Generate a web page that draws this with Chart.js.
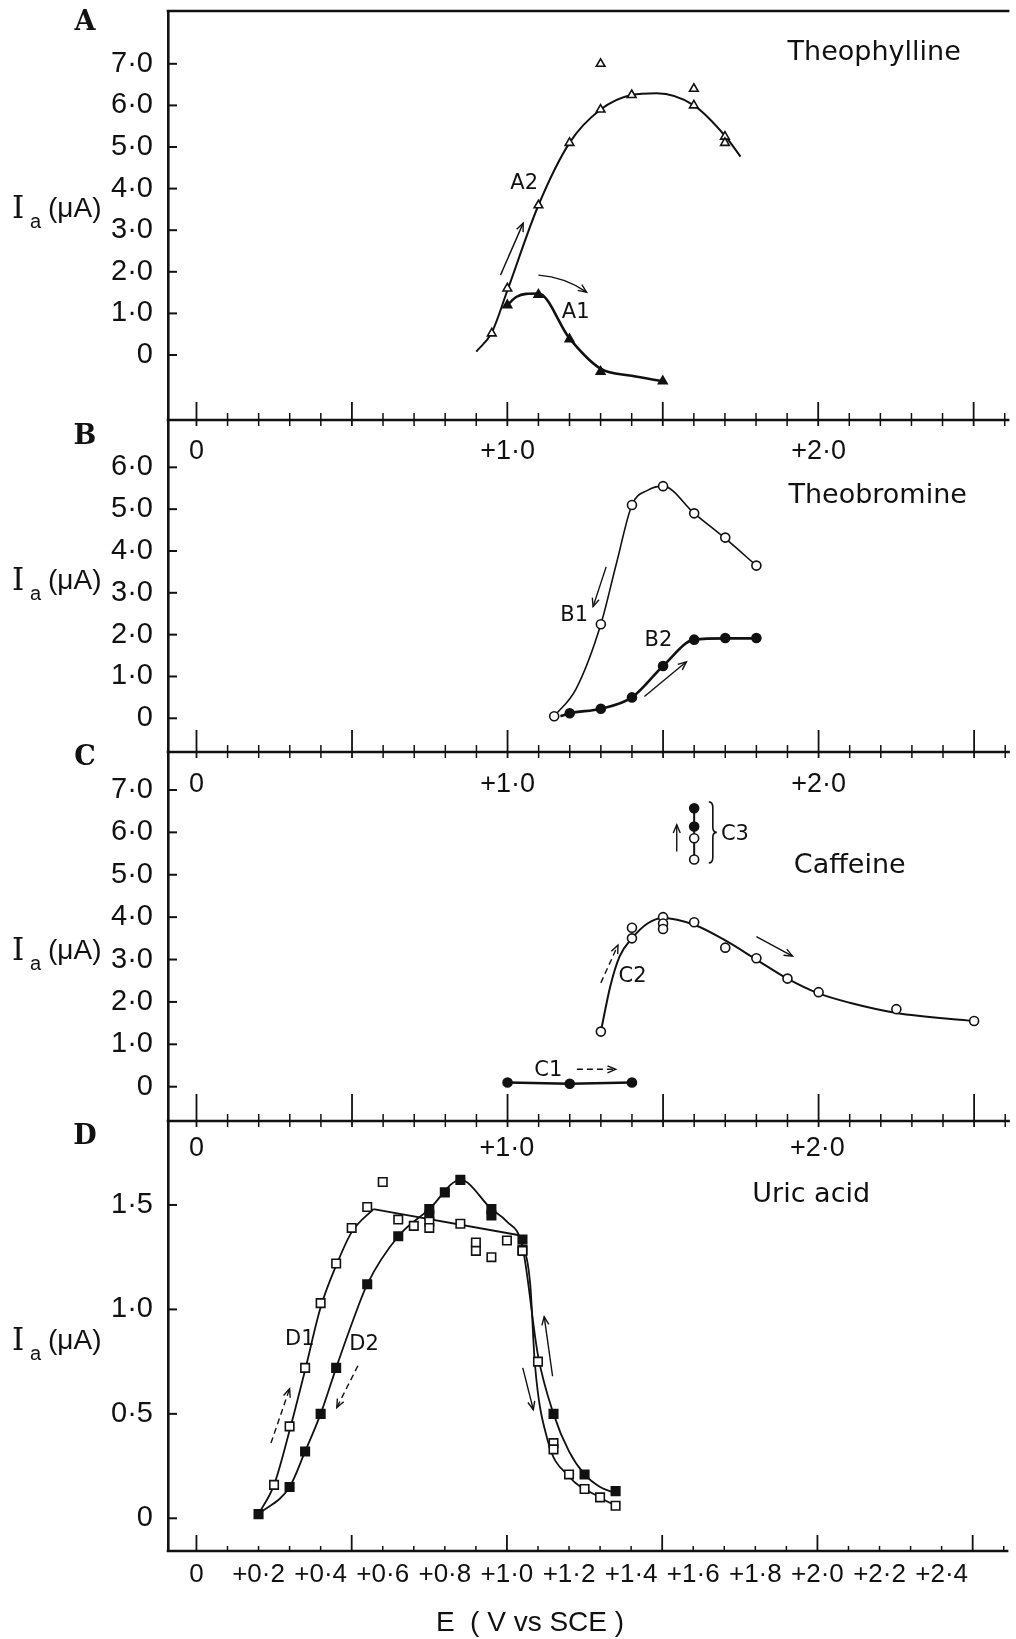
<!DOCTYPE html>
<html>
<head>
<meta charset="utf-8">
<title>Ia vs E</title>
<script src="https://cdn.jsdelivr.net/npm/chart.js@4.4.1/dist/chart.umd.min.js"></script>
<style>
  body { margin: 0; background: #fff; }
  #page { position: relative; width: 1016px; height: 1639px; background: #fff; overflow: hidden; }
  #page canvas { position: absolute; left: 0; }
</style>
</head>
<body>
<div id="page">
  <canvas id="cA"></canvas>
  <canvas id="cB"></canvas>
  <canvas id="cC"></canvas>
  <canvas id="cD"></canvas>
</div>
<script>
// values: [E (V vs SCE), Ia (uA)]

// A - Theophylline
const a2Open = [[0.95,0.52],[1.0,1.6],[1.1,3.6],[1.2,5.1],[1.3,5.9],[1.3,7.0],[1.4,6.25],[1.6,6.4],[1.6,6.0],[1.7,5.25],[1.7,5.1]];
const a1Filled = [[1.0,1.2],[1.1,1.45],[1.2,0.38],[1.3,-0.4],[1.5,-0.63]];
const a2Curve = [[0.9,0.08],[0.95,0.54],[1.0,1.55],[1.1,3.6],[1.2,5.1],[1.3,5.9],[1.4,6.25],[1.48,6.29],[1.6,6.0],[1.7,5.27],[1.75,4.77]];
const a1Curve = [[1.0,1.2],[1.03,1.4],[1.06,1.47],[1.1,1.48],[1.2,0.4],[1.3,-0.33],[1.4,-0.5],[1.5,-0.63]];

// B - Theobromine
const b1Open = [[1.15,0.05],[1.3,2.25],[1.4,5.1],[1.5,5.55],[1.6,4.9],[1.7,4.32],[1.8,3.65]];
const b2Filled = [[1.2,0.12],[1.3,0.23],[1.4,0.5],[1.5,1.25],[1.6,1.88],[1.7,1.92],[1.8,1.92]];
const b1Curve = [[1.15,0.05],[1.22,0.7],[1.3,2.25],[1.35,3.7],[1.4,5.1],[1.45,5.45],[1.5,5.55],[1.6,4.9],[1.7,4.3],[1.8,3.65]];
const b2Curve = [[1.17,0.05],[1.2,0.12],[1.3,0.23],[1.4,0.5],[1.5,1.25],[1.6,1.88],[1.7,1.91],[1.8,1.91]];

// C - Caffeine
const c1Filled = [[1.0,0.1],[1.2,0.07],[1.4,0.1]];
const c2Open = [[1.3,1.3],[1.4,3.75],[1.4,3.5],[1.5,4.0],[1.5,3.85],[1.5,3.72],[1.6,3.88],[1.7,3.28],[1.8,3.03],[1.9,2.55],[2.0,2.23],[2.25,1.83],[2.5,1.55]];
const c3Filled = [[1.6,6.57],[1.6,6.14]];
const c3Open = [[1.6,5.86],[1.6,5.36]];
const c2Curve = [[1.3,1.3],[1.33,2.36],[1.36,3.07],[1.4,3.5],[1.45,3.85],[1.5,3.98],[1.6,3.82],[1.7,3.45],[1.8,3.0],[1.9,2.55],[2.0,2.2],[2.1,1.98],[2.25,1.74],[2.5,1.55]];
const c3Line = [[1.6,5.36],[1.6,6.57]];

// D - Uric acid
const d1Open = [[0.25,0.16],[0.3,0.44],[0.35,0.72],[0.4,1.03],[0.45,1.22],[0.5,1.39],[0.55,1.49],[0.6,1.61],[0.65,1.43],[0.7,1.40],[0.75,1.42],[0.75,1.39],[0.85,1.41],[0.9,1.32],[0.9,1.28],[0.95,1.25],[1.0,1.33],[1.05,1.28],[1.1,0.75],[1.15,0.36],[1.15,0.33],[1.2,0.21],[1.25,0.14],[1.3,0.10],[1.35,0.06]];
const d2Filled = [[0.2,0.02],[0.3,0.15],[0.35,0.32],[0.4,0.5],[0.45,0.72],[0.55,1.12],[0.65,1.35],[0.75,1.48],[0.75,1.45],[0.8,1.56],[0.85,1.62],[0.95,1.48],[0.95,1.45],[1.05,1.335],[1.05,1.285],[1.15,0.5],[1.25,0.21],[1.35,0.13]];
const d1Rise = [[0.2,0.02],[0.25,0.16],[0.3,0.42],[0.35,0.71],[0.4,1.01],[0.45,1.21],[0.5,1.37],[0.57,1.48]];
const d1Plateau = [[0.57,1.48],[1.04,1.355]];
const d1Fall = [[1.04,1.355],[1.075,1.12],[1.09,0.74],[1.13,0.38],[1.2,0.2],[1.3,0.1],[1.35,0.06]];
const d2Curve = [[0.2,0.02],[0.3,0.15],[0.35,0.32],[0.4,0.5],[0.45,0.72],[0.5,0.93],[0.55,1.12],[0.65,1.35],[0.75,1.48],[0.85,1.62],[0.95,1.48],[1.0,1.42],[1.05,1.3],[1.1,0.78],[1.15,0.5],[1.2,0.32],[1.25,0.21],[1.3,0.15],[1.35,0.12]];

// tick values and labels
const yTicksA = [0, 1, 2, 3, 4, 5, 6, 7];
const yLabelsA = ['0', '1·0', '2·0', '3·0', '4·0', '5·0', '6·0', '7·0'];
const yTicksB = [0, 1, 2, 3, 4, 5, 6];
const yLabelsB = ['0', '1·0', '2·0', '3·0', '4·0', '5·0', '6·0'];
const yTicksC = [0, 1, 2, 3, 4, 5, 6, 7];
const yLabelsC = ['0', '1·0', '2·0', '3·0', '4·0', '5·0', '6·0', '7·0'];
const yTicksD = [0, 0.5, 1.0, 1.5];
const yLabelsD = ['0', '0·5', '1·0', '1·5'];
const eTopTicks = [0, 1, 2];
const eTopLabels = ['0', '+1·0', '+2·0'];
const eBottomTicks = [0, 0.2, 0.4, 0.6, 0.8, 1.0, 1.2, 1.4, 1.6, 1.8, 2.0, 2.2, 2.4];
const eBottomLabels = ['0', '+0·2', '+0·4', '+0·6', '+0·8', '+1·0', '+1·2', '+1·4', '+1·6', '+1·8', '+2·0', '+2·2', '+2·4'];
const eMajorTicks = [0, 0.5, 1.0, 1.5, 2.0, 2.5];
const eMinorTicks = [0.1, 0.2, 0.3, 0.4, 0.6, 0.7, 0.8, 0.9, 1.1, 1.2, 1.3, 1.4, 1.6, 1.7, 1.8, 1.9, 2.1, 2.2, 2.3, 2.4, 2.6];

const INK = '#111';
const NUM_FONT = "'Liberation Sans', Arial, sans-serif";
const WORD_FONT = "'DejaVu Sans', Verdana, sans-serif";

// horizontal calibration of the page (px)
const E0_PX = 196.7, E_UNIT_PX = 313.3, AXIS_LEFT = 168, PAGE_W = 1016;
const eMin = (AXIS_LEFT - E0_PX) / E_UNIT_PX;
const eMax = (PAGE_W - E0_PX) / E_UNIT_PX;
const PAD = 40; // room round each panel, more than the y label half height + padding

const toXY = arr => arr.map(([x, y]) => ({ x: x, y: y }));

function marks(pts, style, filled, r) {
  return {
    data: toXY(pts), showLine: false, pointStyle: style, pointRadius: r,
    pointBorderWidth: 1.6, pointBorderColor: INK,
    pointBackgroundColor: filled ? INK : '#fff', clip: false
  };
}

function curve(pts, w, smooth) {
  return {
    data: toXY(pts), showLine: true, pointRadius: 0, borderColor: INK, borderWidth: w,
    tension: smooth ? 0.4 : 0, cubicInterpolationMode: smooth ? 'monotone' : 'default',
    fill: false, clip: false
  };
}

const panels = [
  {
    canvas: 'cA', letter: 'A', letterDy: 12, top: 11, bottom: 420, padBottom: PAD,
    zeroPx: 355, unitPx: 41.6, yTicks: yTicksA, yLabels: yLabelsA, iaY: 3.29,
    topFrame: true, majorUp: 18,
    datasets: [
      marks(a2Open, 'triangle', false, 5),
      marks(a1Filled, 'triangle', true, 5),
      curve(a2Curve, 2, true),
      curve(a1Curve, 2.6, true)
    ],
    texts: [['Theophylline', 2.18, 7.26, 27], ['A2', 1.054, 4.13, 21], ['A1', 1.22, 1.01, 21]],
    arrows: [[0.978, 1.92, 1.051, 3.17, 0, false], [1.10, 1.92, 1.255, 1.51, 7, false]]
  },
  {
    canvas: 'cB', letter: 'B', letterDy: 17, top: 420, bottom: 752, padBottom: PAD,
    zeroPx: 718.3, unitPx: 41.83, yTicks: yTicksB, yLabels: yLabelsB, iaY: 3.07,
    topLabels: true, topLabelDy: 32, majorUp: 22,
    datasets: [
      marks(b1Open, 'circle', false, 4.5),
      marks(b2Filled, 'circle', true, 4.5),
      curve(b1Curve, 1.6, true),
      curve(b2Curve, 2.6, true)
    ],
    texts: [['Theobromine', 2.19, 5.31, 27], ['B1', 1.214, 2.45, 21], ['B2', 1.485, 1.87, 21]],
    arrows: [[1.317, 3.62, 1.275, 2.67, 0, false], [1.44, 0.52, 1.575, 1.35, 0, false]]
  },
  {
    canvas: 'cC', letter: 'C', letterDy: 6, top: 752, bottom: 1121, padBottom: PAD,
    zeroPx: 1086.7, unitPx: 42.39, yTicks: yTicksC, yLabels: yLabelsC, iaY: 2.99,
    topLabels: true, topLabelDy: 33, majorUp: 27,
    datasets: [
      marks(c1Filled, 'circle', true, 4.5),
      marks(c2Open, 'circle', false, 4.5),
      marks(c3Filled, 'circle', true, 4.5),
      marks(c3Open, 'circle', false, 4.5),
      curve(c1Filled, 2.6, false),
      curve(c2Curve, 2, true),
      curve(c3Line, 2, false)
    ],
    texts: [['Caffeine', 2.10, 5.21, 27], ['C1', 1.131, 0.39, 21], ['C2', 1.402, 2.59, 21], ['C3', 1.731, 5.94, 21]],
    arrows: [[1.223, 0.41, 1.348, 0.41, 0, true], [1.30, 2.45, 1.355, 3.34, 0, true],
             [1.80, 3.54, 1.916, 3.08, 0, false], [1.544, 5.55, 1.544, 6.18, 0, false]],
    brace: [1.66, 6.72, 5.28]
  },
  {
    canvas: 'cD', letter: 'D', letterDy: 16, top: 1121, bottom: 1551, padBottom: 1639 - 1551,
    zeroPx: 1518.3, unitPx: 208.9, yTicks: yTicksD, yLabels: yLabelsD, iaY: 0.806,
    topLabels: true, topLabelDy: 28, majorUp: 16, minorUp: 5, minorDown: 0, majorDown: 0,
    bottomLabels: true,
    datasets: [
      marks(d1Open, 'rect', false, 6),
      marks(d2Filled, 'rect', true, 6),
      curve(d1Rise, 1.8, true),
      curve(d1Plateau, 1.8, false),
      curve(d1Fall, 1.8, true),
      curve(d2Curve, 1.8, true)
    ],
    texts: [['Uric acid', 1.98, 1.548, 27], ['D1', 0.333, 0.854, 21], ['D2', 0.54, 0.834, 21]],
    arrows: [[0.24, 0.36, 0.30, 0.62, 0, true], [0.52, 0.73, 0.452, 0.53, 0, true],
             [1.051, 0.72, 1.085, 0.52, 0, false], [1.147, 0.68, 1.12, 0.965, 0, false]]
  }
];

function drawArrow(ctx, xs, ys, a) {
  const x1 = xs.getPixelForValue(a[0]), y1 = ys.getPixelForValue(a[1]);
  const x2 = xs.getPixelForValue(a[2]), y2 = ys.getPixelForValue(a[3]);
  const len = Math.hypot(x2 - x1, y2 - y1);
  const nx = (y2 - y1) / len, ny = -(x2 - x1) / len;
  const cx = (x1 + x2) / 2 + nx * a[4], cy = (y1 + y2) / 2 + ny * a[4];
  ctx.lineWidth = 1.4;
  ctx.setLineDash(a[5] ? [6, 4] : []);
  ctx.beginPath();
  ctx.moveTo(x1, y1);
  ctx.quadraticCurveTo(cx, cy, x2, y2);
  ctx.stroke();
  ctx.setLineDash([]);
  const ang = Math.atan2(y2 - cy, x2 - cx), h = 9;
  ctx.beginPath();
  ctx.moveTo(x2 - h * Math.cos(ang - 0.4), y2 - h * Math.sin(ang - 0.4));
  ctx.lineTo(x2, y2);
  ctx.lineTo(x2 - h * Math.cos(ang + 0.4), y2 - h * Math.sin(ang + 0.4));
  ctx.stroke();
}

function makeDecor(p) {
  return {
    id: 'decor' + p.letter,
    afterDraw(chart) {
      const ctx = chart.ctx, area = chart.chartArea;
      const xs = chart.scales.x, ys = chart.scales.y;
      const seg = (x1, y1, x2, y2, w) => {
        ctx.lineWidth = w; ctx.beginPath(); ctx.moveTo(x1, y1); ctx.lineTo(x2, y2); ctx.stroke();
      };
      ctx.save();
      ctx.strokeStyle = INK;
      ctx.fillStyle = INK;

      // frame and panel boundary with E ticks
      if (p.topFrame) seg(area.left - 1.3, area.top, area.right, area.top, 2.6);
      seg(area.left - 1.3, area.bottom, area.right, area.bottom, 2.6);
      const minorUp = p.minorUp !== undefined ? p.minorUp : 7;
      const minorDown = p.minorDown !== undefined ? p.minorDown : 6;
      const majorDown = p.majorDown !== undefined ? p.majorDown : 6;
      eMinorTicks.forEach(v => {
        const x = xs.getPixelForValue(v);
        seg(x, area.bottom - minorUp, x, area.bottom + minorDown, 1.5);
      });
      eMajorTicks.forEach(v => {
        const x = xs.getPixelForValue(v);
        seg(x, area.bottom - p.majorUp, x, area.bottom + majorDown, 1.8);
      });

      // inward Ia ticks
      p.yTicks.forEach(v => {
        const y = ys.getPixelForValue(v);
        seg(area.left, y, area.left + 9, y, 2);
      });

      ctx.textAlign = 'center';
      ctx.textBaseline = 'middle';
      if (p.topLabels) {
        ctx.font = '27px ' + NUM_FONT;
        eTopTicks.forEach((v, i) => ctx.fillText(eTopLabels[i], xs.getPixelForValue(v), area.top + p.topLabelDy));
      }
      if (p.bottomLabels) {
        ctx.font = '26px ' + NUM_FONT;
        eBottomTicks.forEach((v, i) => ctx.fillText(eBottomLabels[i], xs.getPixelForValue(v), area.bottom + 24));
        ctx.font = '28px ' + NUM_FONT;
        ctx.fillText('E  ( V vs SCE )', 530, area.bottom + 72);
      }

      // names and curve labels
      p.texts.forEach(t => {
        ctx.font = t[3] + 'px ' + WORD_FONT;
        ctx.fillText(t[0], xs.getPixelForValue(t[1]), ys.getPixelForValue(t[2]));
      });

      p.arrows.forEach(a => drawArrow(ctx, xs, ys, a));

      if (p.brace) {
        const bx = xs.getPixelForValue(p.brace[0]);
        const yt = ys.getPixelForValue(p.brace[1]), yb = ys.getPixelForValue(p.brace[2]);
        const ym = (yt + yb) / 2;
        ctx.lineWidth = 1.6;
        ctx.beginPath();
        ctx.moveTo(bx - 4, yt);
        ctx.quadraticCurveTo(bx, yt, bx, yt + 6);
        ctx.lineTo(bx, ym - 5);
        ctx.quadraticCurveTo(bx, ym, bx + 4, ym);
        ctx.quadraticCurveTo(bx, ym, bx, ym + 5);
        ctx.lineTo(bx, yb - 6);
        ctx.quadraticCurveTo(bx, yb, bx - 4, yb);
        ctx.stroke();
      }

      // panel letter
      ctx.font = "bold 27px 'DejaVu Serif', serif";
      ctx.fillText(p.letter, 85, area.top + p.letterDy);

      // Ia (uA) label
      const iy = ys.getPixelForValue(p.iaY);
      ctx.textAlign = 'left';
      ctx.textBaseline = 'alphabetic';
      ctx.font = "31px 'DejaVu Serif', serif";
      ctx.fillText('I', 12, iy);
      ctx.font = '20px ' + NUM_FONT;
      ctx.fillText('a', 30, iy + 10);
      ctx.font = '28px ' + NUM_FONT;
      ctx.fillText('(μA)', 48, iy - 1);
      ctx.restore();
    }
  };
}

panels.forEach(p => {
  const cv = document.getElementById(p.canvas);
  cv.width = PAGE_W;
  cv.height = p.bottom - p.top + PAD + p.padBottom;
  cv.style.top = (p.top - PAD) + 'px';
  new Chart(cv, {
    type: 'scatter',
    data: { datasets: p.datasets },
    options: {
      responsive: false,
      animation: false,
      events: [],
      layout: { padding: { left: 0, right: 0, top: PAD, bottom: p.padBottom } },
      plugins: { legend: { display: false }, tooltip: { enabled: false } },
      scales: {
        x: { type: 'linear', display: false, min: eMin, max: eMax },
        y: {
          type: 'linear',
          min: (p.zeroPx - p.bottom) / p.unitPx,
          max: (p.zeroPx - p.top) / p.unitPx,
          afterFit: s => { s.width = AXIS_LEFT; },
          afterBuildTicks: s => { s.ticks = p.yTicks.map(v => ({ value: v })); },
          ticks: {
            autoSkip: false, padding: 15, color: INK,
            font: { family: NUM_FONT, size: 29 },
            callback: v => p.yLabels[p.yTicks.indexOf(v)]
          },
          grid: { drawOnChartArea: false, drawTicks: false },
          border: { display: true, width: 2.6, color: INK }
        }
      }
    },
    plugins: [makeDecor(p)]
  });
});
</script>
</body>
</html>
